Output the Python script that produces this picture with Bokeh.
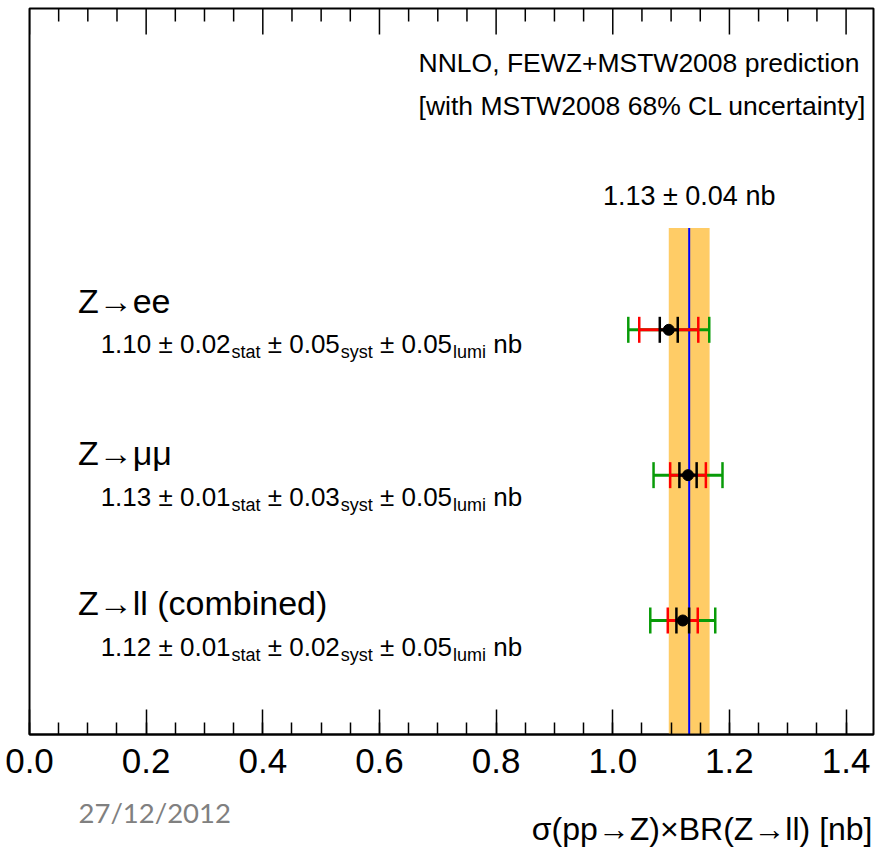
import numpy as np
from bokeh.plotting import figure
from bokeh.layouts import column
from bokeh.models import (ColumnDataSource, SingleIntervalTicker, Range1d,
                          PrintfTickFormatter)
from bokeh.core.properties import value
from bokeh.embed import file_html
from bokeh.resources import INLINE

# ---------------- data ----------------
channels = ["Z→ee", "Z→μμ", "Z→ll (combined)"]
row_pos = [3, 2, 1]
central = [1.096, 1.129, 1.120]          # plotted marker position
label_val = [1.10, 1.13, 1.12]           # quoted values
stat = [0.02, 0.01, 0.01]
syst = [0.05, 0.03, 0.02]
lumi = [0.05, 0.05, 0.05]
# half widths of drawn error bars
err_stat = [0.0154, 0.0148, 0.0109]      # black
err_statsyst = [0.0506, 0.0306, 0.0257]  # red
err_total = [0.0694, 0.0591, 0.0557]     # green
pred = 1.131
pred_band = 0.035
pred_label = "1.13 ± 0.04 nb"
x_min, x_max = 0.0, 1.447
x_ticks_interval = 0.2
x_minor_interval = 0.05

title_lines = ["NNLO, FEWZ+MSTW2008 prediction",
               "[with MSTW2008 68% CL uncertainty]"]
x_axis_label = "σ(pp→Z)×BR(Z→ll) [nb]"
date_text = "27/12/2012"

# ---------------- layout / style ----------------
W = 875
H_MAIN, H_FOOT = 795, 54
FRAME_L, FRAME_R = 29, 873
FONT = "Liberation Sans"
GREEN, RED, BLUE, BAND = "#089b08", "#ff0000", "#0000ff", "#ffcc66"

p = figure(width=W, height=H_MAIN, output_backend="svg", toolbar_location=None,
           x_range=Range1d(x_min, x_max), y_range=Range1d(0.2157, 5.2106),
           y_axis_location=None, min_border_left=FRAME_L, min_border_right=W - FRAME_R,
           min_border_top=8, min_border_bottom=H_MAIN - 734)
p.grid.visible = False
p.outline_line_color = "black"
p.outline_line_width = 2
p.background_fill_color = "white"
p.border_fill_color = "white"

ticker = SingleIntervalTicker(interval=x_ticks_interval, num_minor_ticks=4)
ax = p.xaxis[0]
ax.ticker = ticker
ax.formatter = PrintfTickFormatter(format="%.1f")
ax.major_tick_in = 25
ax.major_tick_out = 0
ax.minor_tick_in = 12
ax.minor_tick_out = 0
ax.axis_line_width = 2
ax.major_tick_line_width = 1.5
ax.minor_tick_line_width = 1.5
ax.major_label_text_font = FONT
ax.major_label_text_font_size = "35px"
ax.major_label_text_color = "black"
ax.major_label_standoff = 14

# mirrored ticks on the top edge (half of each dash is clipped by the frame)
all_ticks = np.round(np.arange(x_min, x_max, x_minor_interval), 3)
is_major = np.isclose(np.mod(all_ticks + 1e-9, x_ticks_interval), 0, atol=1e-6)
y_top = p.y_range.end
p.scatter(x=all_ticks[is_major], y=[y_top] * int(is_major.sum()), marker="dash",
          angle=np.pi / 2, size=52, line_color="black", line_width=1.5)
p.scatter(x=all_ticks[~is_major], y=[y_top] * int((~is_major).sum()), marker="dash",
          angle=np.pi / 2, size=26, line_color="black", line_width=1.5)

# prediction band + line
band_top = 3.70
p.quad(left=[pred - pred_band], right=[pred + pred_band], bottom=[p.y_range.start],
       top=[band_top], fill_color=BAND, line_color=None)
p.segment(x0=[pred], x1=[pred], y0=[p.y_range.start], y1=[band_top],
          line_color=BLUE, line_width=2)
p.text(x=[pred], y=[3.924], text=[pred_label], text_font=value(FONT),
       text_font_size="27px", text_align="center", text_baseline="alphabetic",
       text_color="black")

# error bars
c = np.array(central)
y = np.array(row_pos, dtype=float)
levels = [(np.array(err_total), GREEN), (np.array(err_statsyst), RED),
          (np.array(err_stat), "black")]
for e, col in levels:
    p.segment(x0=c - e, x1=c + e, y0=y, y1=y, line_color=col, line_width=3)
for e, col in levels:
    p.scatter(x=np.concatenate([c - e, c + e]), y=np.concatenate([y, y]),
              marker="dash", angle=np.pi / 2, size=26, line_color=col, line_width=2.5)
p.scatter(x=c, y=y, marker="circle", size=11, fill_color="black", line_color="black")

# channel labels
cat_x = 0.083
cat_y = [3.20, 2.15, 1.12]
p.text(x=[cat_x] * 3, y=cat_y, text=channels, text_font=value(FONT),
       text_font_size="34px", text_baseline="alphabetic", text_align="left",
       text_color="black")

# value lines with subscripts
ARIAL = {ch: 556 for ch in "0123456789"}
ARIAL.update({".": 278, " ": 278, "±": 584, "s": 500, "t": 278, "a": 556, "y": 500,
              "l": 222, "u": 556, "m": 833, "i": 222, "n": 556, "b": 556})


def tw(s, size):
    return sum(ARIAL[ch] for ch in s) / 1000.0 * size


MAIN, SUB = 26, 18
val_x = 0.122
val_y = [2.90, 1.85, 0.82]
cols = {MAIN: dict(x=[], y=[], text=[], xo=[], yo=[]),
        SUB: dict(x=[], y=[], text=[], xo=[], yo=[])}
for i in range(3):
    pieces = [(f"{label_val[i]:.2f} ± {stat[i]:.2f}", MAIN), ("stat", SUB),
              (f" ± {syst[i]:.2f}", MAIN), ("syst", SUB),
              (f" ± {lumi[i]:.2f}", MAIN), ("lumi", SUB), (" nb", MAIN)]
    off = 0.0
    for s, size in pieces:
        lead = len(s) - len(s.lstrip(" "))
        off += tw(" " * lead, size)
        s = s.lstrip(" ")
        d = cols[size]
        d["x"].append(val_x)
        d["y"].append(val_y[i])
        d["text"].append(s)
        d["xo"].append(off)
        d["yo"].append(0 if size == MAIN else 8)
        off += tw(s, size)
for size, d in cols.items():
    p.text(x="x", y="y", text="text", x_offset="xo", y_offset="yo",
           text_font_size=f"{size}px", text_font=value(FONT),
           text_baseline="alphabetic", text_align="left", text_color="black",
           source=ColumnDataSource(d))

# header text
p.text(x=[0.667, 0.667], y=[4.833, 4.543], text=title_lines, text_font=value(FONT),
       text_font_size="26.5px", text_baseline="alphabetic", text_align="left",
       text_color="black")

# footer strip: date and axis title (x in canvas pixels, frame aligned with main plot)
f = figure(width=W, height=H_FOOT, output_backend="svg", toolbar_location=None,
           x_range=Range1d(FRAME_L, FRAME_R), y_range=Range1d(0, H_FOOT),
           x_axis_location=None, y_axis_location=None, min_border=0,
           min_border_left=FRAME_L, min_border_right=W - FRAME_R)
f.grid.visible = False
f.outline_line_color = None
f.background_fill_color = "white"
f.border_fill_color = "white"
f.text(x=[872], y=[H_FOOT - (828 - H_MAIN)], text=[x_axis_label], text_font=value(FONT),
       text_font_size="32px", text_align="right", text_baseline="middle",
       text_color="black")
f.text(x=[78], y=[H_FOOT - (812 - H_MAIN)], text=[date_text], text_font=value("Lato"),
       text_font_size="27.5px", text_align="left", text_baseline="middle",
       text_color="#808080")

layout = column(p, f, spacing=0)
open("out.html", "w").write(file_html(layout, INLINE))
